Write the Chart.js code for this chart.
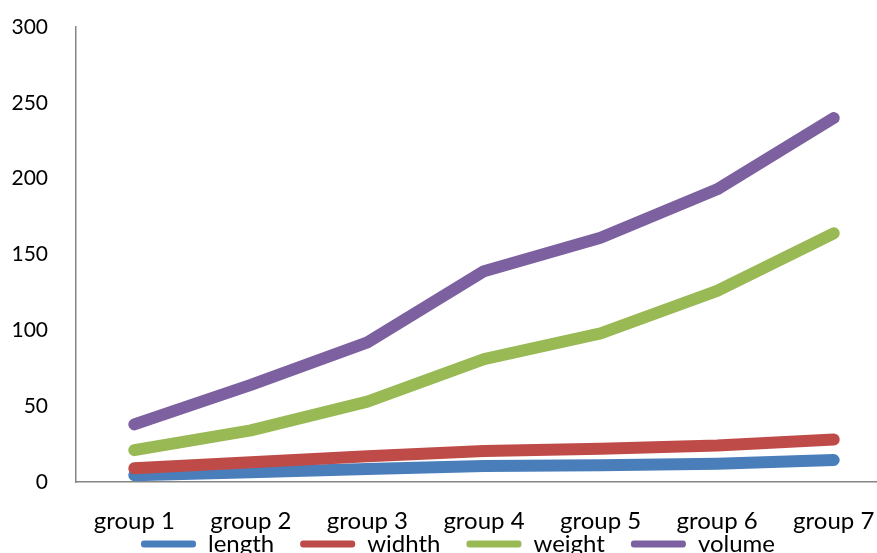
<!DOCTYPE html>
<html>
<head>
<meta charset="utf-8">
<script src="https://cdn.jsdelivr.net/npm/chart.js@4"></script>
<style>
    html, body { margin: 0; padding: 0; background: #fff; overflow: hidden; }
    #wrap { position: absolute; left: 0; top: 0; width: 892px; height: 612px; }
</style>
</head>
<body>
<div id="wrap"><canvas id="chart"></canvas></div>
<script>
// данные графика
const categories = ['group 1', 'group 2', 'group 3', 'group 4', 'group 5', 'group 6', 'group 7'];
const lengthValues = [4.5, 6.5, 8.5, 10.5, 11, 12, 14.5];
const widthValues = [9, 13, 17, 20.5, 22, 24, 28];
const weightValues = [21, 34, 53, 81, 98, 126, 164];
const volumeValues = [38, 64, 92, 139, 161, 193, 240];
const yTicks = [0, 50, 100, 150, 200, 250, 300];

const seriesNames = ['length', 'widhth', 'weight', 'volume'];
const seriesColors = ['#4a7ebb', '#be4b48', '#98b954', '#7d60a0'];
const seriesData = [lengthValues, widthValues, weightValues, volumeValues];

Chart.defaults.font.family = 'Lato, "Open Sans", sans-serif';
Chart.defaults.font.size = 24;
Chart.defaults.color = '#000';

// сдвигаем легенду вверх, чтобы она наезжала на подписи оси X, как в оригинале
const legendShiftY = 46;
const legendShiftX = 12;
const shiftLegend = {
    id: 'shiftLegend',
    beforeDraw(chart) {
        const lg = chart.legend;
        if (lg && !lg._shifted) {
            lg.top -= legendShiftY;
            lg.bottom -= legendShiftY;
            lg.left += legendShiftX;
            lg.right += legendShiftX;
            lg._shifted = true;
        }
    }
};

const datasets = seriesData.map((values, i) => ({
    label: seriesNames[i],
    data: values,
    borderColor: seriesColors[i],
    backgroundColor: seriesColors[i],
    borderWidth: 12,
    borderCapStyle: 'round',
    borderJoinStyle: 'round',
    pointRadius: 0,
    tension: 0,
    order: seriesData.length - i
}));

const ctx = document.getElementById('chart').getContext('2d');
new Chart(ctx, {
    type: 'line',
    data: { labels: categories, datasets: datasets },
    plugins: [shiftLegend],
    options: {
        responsive: true,
        maintainAspectRatio: false,
        animation: false,
        layout: { padding: 0 },
        plugins: {
            tooltip: { enabled: false },
            legend: {
                position: 'bottom',
                labels: {
                    boxWidth: 55,
                    boxHeight: 7,
                    padding: 26,
                    font: { size: 24 },
                    generateLabels: (chart) => chart.data.datasets.map((ds, i) => ({
                        text: ds.label,
                        fillStyle: ds.borderColor,
                        strokeStyle: ds.borderColor,
                        lineWidth: 0,
                        borderRadius: 3,
                        datasetIndex: i
                    })),
                    useBorderRadius: true
                }
            }
        },
        scales: {
            x: {
                offset: true,
                grid: { display: false, drawTicks: false },
                border: { color: '#868686', width: 1.5 },
                ticks: { padding: 25, maxRotation: 0, autoSkip: false, font: { size: 24 } },
                afterFit: (scale) => {
                    scale.height = 70;
                    scale.paddingLeft = 0;
                    scale.paddingRight = 0;
                }
            },
            y: {
                min: 0,
                max: 300,
                grid: { display: false, drawTicks: false },
                border: { color: '#868686', width: 1.5 },
                ticks: {
                    padding: 28,
                    font: { size: 21 },
                    callback: (v) => yTicks.includes(v) ? v : null,
                    stepSize: 50
                },
                afterFit: (scale) => {
                    scale.width = 76;
                    scale.paddingTop = 27;
                }
            }
        }
    }
});
</script>
</body>
</html>
